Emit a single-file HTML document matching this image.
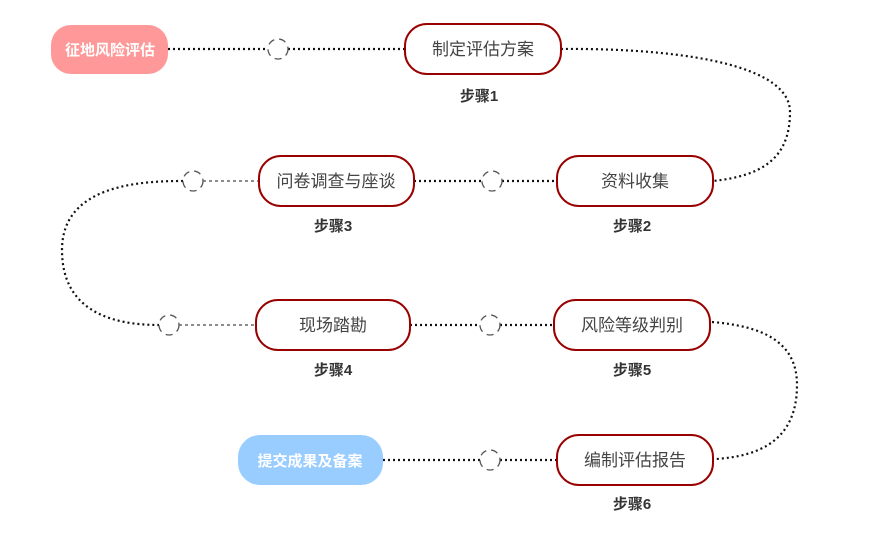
<!DOCTYPE html>
<html><head><meta charset="utf-8"><style>
html,body{margin:0;padding:0;background:#fff;}
svg{display:block;}
text{font-family:"Liberation Sans","Noto Sans CJK SC",sans-serif;}
</style></head><body>
<svg width="890" height="547" viewBox="0 0 890 547" xmlns="http://www.w3.org/2000/svg">
<g fill="none" stroke-linecap="butt">
  <g stroke="#111" stroke-width="2.2" stroke-dasharray="2,3">
    <line x1="168" y1="49" x2="268" y2="49"/>
    <line x1="288" y1="49" x2="405" y2="49"/>
    <path d="M561,49 C660,48 790,60 790,112 C790,160 760,176 713,181"/>
    <line x1="414" y1="181" x2="482" y2="181"/>
    <line x1="502" y1="181" x2="557" y2="181"/>
    <path d="M183,181 C140,181 62,185 62,250 C62,310 110,325 159,325"/>
    <line x1="410" y1="325" x2="480" y2="325"/>
    <line x1="500" y1="325" x2="554" y2="325"/>
    <path d="M712,322 C760,326 797,340 797,385 C797,440 760,456 716,459"/>
    <line x1="383" y1="460" x2="480" y2="460"/>
    <line x1="500" y1="460" x2="557" y2="460"/>
  </g>
  <g stroke="#666" stroke-width="1.5" stroke-dasharray="3,3">
    <line x1="203" y1="181" x2="259" y2="181"/>
    <line x1="179" y1="325" x2="256" y2="325"/>
  </g>
  <g stroke="#555" stroke-width="1.3" stroke-dasharray="7,5" fill="#fff">
    <circle cx="278" cy="49" r="10"/>
    <circle cx="492" cy="181" r="10"/>
    <circle cx="193" cy="181" r="10"/>
    <circle cx="169" cy="325" r="10"/>
    <circle cx="490" cy="325" r="10"/>
    <circle cx="490" cy="460" r="10"/>
  </g>
  <g stroke="#990000" stroke-width="2" fill="#fff">
    <rect x="405" y="24" width="156" height="50" rx="22"/>
    <rect x="557" y="156" width="156" height="50" rx="22"/>
    <rect x="259" y="156" width="155" height="50" rx="22"/>
    <rect x="256" y="300" width="154" height="50" rx="22"/>
    <rect x="554" y="300" width="156" height="50" rx="22"/>
    <rect x="557" y="435" width="156" height="50" rx="22"/>
  </g>
  <rect x="51" y="25" width="117" height="49" rx="20" fill="#ff9999"/>
  <rect x="238" y="435" width="145" height="50" rx="22" fill="#99ccff"/>
</g>
<g font-size="17" fill="#444" text-anchor="middle">
  <text x="483" y="55">制定评估方案</text>
  <text x="635" y="187">资料收集</text>
  <text x="336" y="187">问卷调查与座谈</text>
  <text x="333" y="331">现场踏勘</text>
  <text x="632" y="331">风险等级判别</text>
  <text x="635" y="466">编制评估报告</text>
</g>
<g font-size="15" fill="#fff" font-weight="bold" text-anchor="middle">
  <text x="110" y="55">征地风险评估</text>
  <text x="310" y="466">提交成果及备案</text>
</g>
<g font-size="15" fill="#333" font-weight="bold" text-anchor="middle">
  <text x="479" y="101">步骤1</text>
  <text x="632" y="231">步骤2</text>
  <text x="333" y="231">步骤3</text>
  <text x="333" y="375">步骤4</text>
  <text x="632" y="375">步骤5</text>
  <text x="632" y="509">步骤6</text>
</g>
</svg>
</body></html>
